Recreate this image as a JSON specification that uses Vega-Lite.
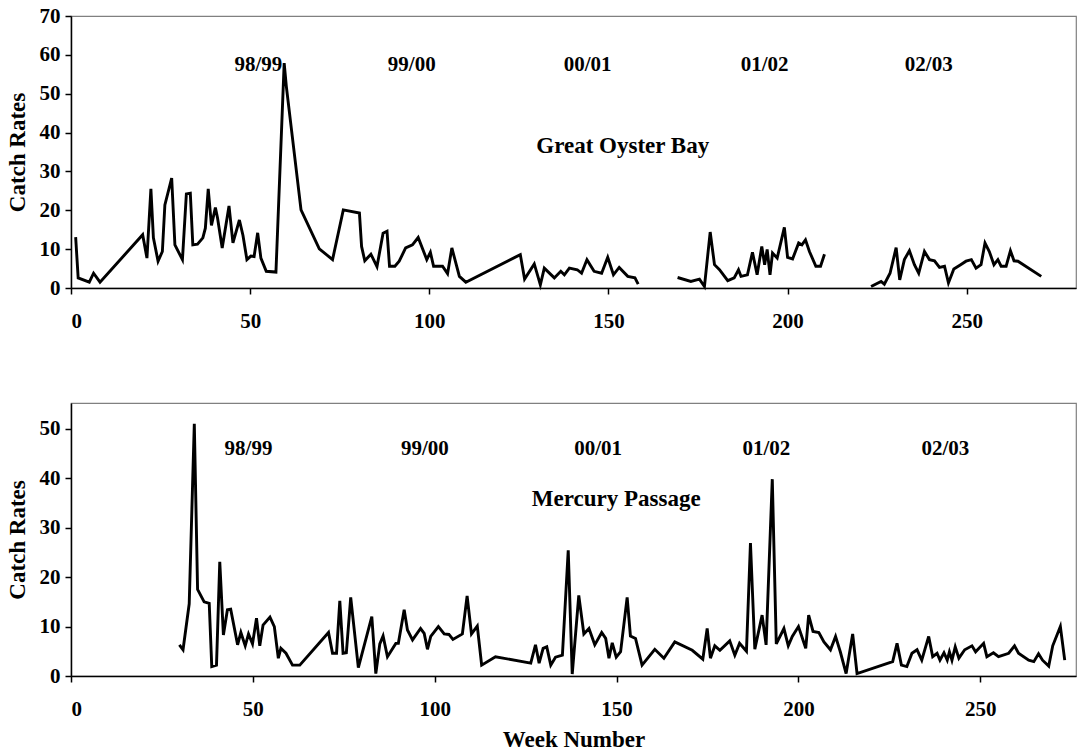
{
  "$schema": "https://vega.github.io/schema/vega-lite/v6.json",
  "padding": {"left": 5, "top": 4, "right": 4, "bottom": 0},
  "background": "white",
  "datasets": {
    "gob": [
      {"week":1.3,"rate":13.1},{"week":2,"rate":2.6},{"week":5.1,"rate":1.5},{"week":6.3,"rate":3.8},{"week":8.1,"rate":1.5},{"week":20,"rate":13.7},{"week":21.2,"rate":7.7},{"week":22.3,"rate":25.5},{"week":23,"rate":12.9},{"week":24.3,"rate":6.9},{"week":25.5,"rate":9.4},{"week":26.2,"rate":21.4},{"week":28.1,"rate":28.3},{"week":29,"rate":11.1},{"week":31.1,"rate":7.3},{"week":32.2,"rate":24.2},{"week":33.3,"rate":24.4},{"week":34,"rate":11.1},{"week":35.3,"rate":11.3},{"week":36.8,"rate":12.9},{"week":37.5,"rate":15.4},{"week":38.3,"rate":25.5},{"week":39.2,"rate":16.1},{"week":40.3,"rate":20.7},{"week":40.9,"rate":18},{"week":42.2,"rate":10.3},{"week":44.1,"rate":21.1},{"week":45.2,"rate":11.6},{"week":47,"rate":17.5},{"week":48,"rate":13.5},{"week":49.1,"rate":7.3},{"week":50.2,"rate":8.2},{"week":51.1,"rate":8.1},{"week":52.1,"rate":14.2},{"week":53,"rate":7.7},{"week":54.5,"rate":4.3},{"week":57.2,"rate":4.1},{"week":59.5,"rate":57.9},{"week":60.1,"rate":51.9},{"week":64.2,"rate":20.1},{"week":69.3,"rate":10.1},{"week":73,"rate":7.3},{"week":76,"rate":20.1},{"week":80.5,"rate":19.3},{"week":81.1,"rate":10.7},{"week":82,"rate":7},{"week":83.7,"rate":8.7},{"week":85.4,"rate":5.5},{"week":87.1,"rate":14.1},{"week":88.2,"rate":14.6},{"week":88.9,"rate":5.6},{"week":90.4,"rate":5.6},{"week":91.6,"rate":6.9},{"week":93.4,"rate":10.3},{"week":95.3,"rate":11.1},{"week":96.9,"rate":13},{"week":99.3,"rate":7.3},{"week":100.3,"rate":9.2},{"week":101.2,"rate":5.6},{"week":103.7,"rate":5.6},{"week":105.1,"rate":3.7},{"week":106.3,"rate":10.3},{"week":108.4,"rate":3},{"week":110.2,"rate":1.5},{"week":125.4,"rate":8.6},{"week":126.6,"rate":2.3},{"week":129.3,"rate":6.2},{"week":131,"rate":0.8},{"week":132.1,"rate":5.1},{"week":134.9,"rate":2.6},{"week":136.7,"rate":4.3},{"week":137.7,"rate":3.4},{"week":139.1,"rate":5.1},{"week":141.3,"rate":4.7},{"week":142.5,"rate":3.8},{"week":144,"rate":7.3},{"week":146,"rate":4.3},{"week":148.1,"rate":3.8},{"week":149.8,"rate":7.9},{"week":151.4,"rate":3.4},{"week":153,"rate":5.3},{"week":155.4,"rate":3},{"week":157.4,"rate":2.6},{"week":158.3,"rate":1},
      {"week":164,"rate":null},
      {"week":169.3,"rate":2.7},{"week":173,"rate":1.7},{"week":175.4,"rate":2.3},{"week":176.8,"rate":0.4},{"week":178.4,"rate":14.4},{"week":179.6,"rate":6},{"week":181,"rate":4.7},{"week":183.3,"rate":1.9},{"week":185.1,"rate":2.6},{"week":186.3,"rate":4.7},{"week":187,"rate":3},{"week":188.8,"rate":3.4},{"week":190.2,"rate":9.2},{"week":191.5,"rate":3.4},{"week":192.8,"rate":10.7},{"week":193.6,"rate":6},{"week":194.3,"rate":9.9},{"week":195.1,"rate":3.4},{"week":195.8,"rate":9},{"week":197.1,"rate":7.7},{"week":199.1,"rate":15.6},{"week":200,"rate":7.9},{"week":201.4,"rate":7.5},{"week":203.1,"rate":11.6},{"week":204,"rate":11.1},{"week":205,"rate":12.4},{"week":206.1,"rate":9.4},{"week":207.9,"rate":5.6},{"week":209.2,"rate":5.6},{"week":210.3,"rate":8.7},
      {"week":217,"rate":null},
      {"week":223.3,"rate":0.4},{"week":226.1,"rate":1.7},{"week":227,"rate":1},{"week":228.6,"rate":3.8},{"week":230.3,"rate":10.4},{"week":231.3,"rate":2.1},{"week":232.6,"rate":7.3},{"week":234,"rate":9.6},{"week":235.4,"rate":6},{"week":236.6,"rate":3.8},{"week":238.2,"rate":9.4},{"week":239.6,"rate":7.3},{"week":241,"rate":7},{"week":242.4,"rate":5.3},{"week":243.8,"rate":5.6},{"week":244.9,"rate":1.3},{"week":246.4,"rate":4.9},{"week":248.3,"rate":6},{"week":249.8,"rate":6.9},{"week":251.3,"rate":7.3},{"week":252.6,"rate":5.1},{"week":254,"rate":6},{"week":255.1,"rate":11.6},{"week":256.3,"rate":9.4},{"week":257.6,"rate":6},{"week":258.7,"rate":7.3},{"week":259.6,"rate":5.6},{"week":261,"rate":5.6},{"week":262.2,"rate":9.6},{"week":263.2,"rate":7},{"week":264.3,"rate":6.9},{"week":270.8,"rate":3}
    ],
    "mp": [
      {"week":29.8,"rate":6.3},{"week":30.8,"rate":5.3},{"week":32.5,"rate":14.6},{"week":33.9,"rate":51},{"week":34.8,"rate":17.5},{"week":36.6,"rate":15},{"week":38,"rate":14.7},{"week":38.7,"rate":1.9},{"week":40,"rate":2.2},{"week":40.9,"rate":23.1},{"week":41.9,"rate":8.3},{"week":43,"rate":13.4},{"week":43.9,"rate":13.5},{"week":45.8,"rate":6.3},{"week":46.7,"rate":8.8},{"week":47.9,"rate":6.1},{"week":48.8,"rate":8.5},{"week":49.9,"rate":6.5},{"week":51,"rate":11.7},{"week":51.9,"rate":6.1},{"week":52.8,"rate":10.3},{"week":54.7,"rate":11.9},{"week":55.9,"rate":10},{"week":57,"rate":3.6},{"week":57.7,"rate":5.6},{"week":59.1,"rate":4.6},{"week":60.9,"rate":2.2},{"week":62.9,"rate":2.2},{"week":70.8,"rate":8.8},{"week":71.9,"rate":4.6},{"week":73,"rate":4.6},{"week":73.9,"rate":15.2},{"week":74.8,"rate":4.6},{"week":75.7,"rate":4.7},{"week":76.9,"rate":15.9},{"week":79,"rate":1.7},{"week":82.7,"rate":12},{"week":83.8,"rate":0.5},{"week":84.9,"rate":6.5},{"week":85.8,"rate":8.1},{"week":87,"rate":3.9},{"week":89.3,"rate":6.6},{"week":90,"rate":6.6},{"week":91.6,"rate":13.4},{"week":92.5,"rate":9.3},{"week":93.9,"rate":7.3},{"week":96.1,"rate":9.6},{"week":97.1,"rate":8.6},{"week":98,"rate":5.4},{"week":98.9,"rate":8},{"week":101,"rate":10},{"week":102.6,"rate":8.5},{"week":103.9,"rate":8.4},{"week":105,"rate":7.4},{"week":107.6,"rate":8.5},{"week":108.9,"rate":16.2},{"week":110.1,"rate":8.5},{"week":111.7,"rate":10.1},{"week":112.9,"rate":2.2},{"week":116.7,"rate":3.9},{"week":126.4,"rate":2.6},{"week":127.7,"rate":6.3},{"week":128.7,"rate":2.6},{"week":129.8,"rate":5.6},{"week":130.8,"rate":5.9},{"week":131.9,"rate":2.2},{"week":133.2,"rate":3.8},{"week":135.1,"rate":4.2},{"week":136.7,"rate":25.4},{"week":137.8,"rate":0.4},{"week":139.6,"rate":16.3},{"week":141,"rate":8.5},{"week":142.4,"rate":9.6},{"week":144,"rate":6.3},{"week":145.9,"rate":8.8},{"week":147,"rate":7.6},{"week":147.9,"rate":3.6},{"week":148.8,"rate":6.7},{"week":149.9,"rate":3.8},{"week":151.1,"rate":4.9},{"week":152.9,"rate":15.9},{"week":153.8,"rate":8.1},{"week":155.2,"rate":7.6},{"week":157,"rate":2.2},{"week":160.5,"rate":5.4},{"week":163,"rate":3.6},{"week":166,"rate":6.9},{"week":170.8,"rate":5.2},{"week":173.7,"rate":3.4},{"week":174.9,"rate":9.6},{"week":175.8,"rate":3.6},{"week":177,"rate":6.1},{"week":178.4,"rate":5.2},{"week":181.1,"rate":7.1},{"week":182.5,"rate":4.2},{"week":183.8,"rate":6.6},{"week":185.7,"rate":5},{"week":186.8,"rate":26.9},{"week":188,"rate":5.4},{"week":190,"rate":12.3},{"week":191.1,"rate":6.3},{"week":192.8,"rate":39.8},{"week":193.9,"rate":6.5},{"week":196,"rate":9.6},{"week":197.2,"rate":6.1},{"week":198.3,"rate":8},{"week":200,"rate":10},{"week":202,"rate":5.6},{"week":202.8,"rate":12.3},{"week":204,"rate":9},{"week":205.6,"rate":8.8},{"week":207,"rate":6.9},{"week":208.8,"rate":5.3},{"week":210.2,"rate":8},{"week":211.5,"rate":4.9},{"week":213.1,"rate":0.5},{"week":214.9,"rate":8.5},{"week":216.1,"rate":0.5},{"week":225.9,"rate":2.9},{"week":227.1,"rate":6.6},{"week":228.3,"rate":2.2},{"week":229.8,"rate":1.9},{"week":231.2,"rate":4.6},{"week":232.6,"rate":5.3},{"week":233.9,"rate":3.2},{"week":235.8,"rate":8},{"week":236.9,"rate":3.9},{"week":238.1,"rate":4.6},{"week":238.9,"rate":3.2},{"week":240,"rate":4.7},{"week":240.9,"rate":3.2},{"week":241.5,"rate":4.9},{"week":242.2,"rate":3.2},{"week":243.1,"rate":5.9},{"week":244.1,"rate":3.6},{"week":245.7,"rate":5.3},{"week":247.7,"rate":6.1},{"week":248.7,"rate":4.9},{"week":250.9,"rate":6.6},{"week":251.8,"rate":3.9},{"week":253.6,"rate":4.7},{"week":255,"rate":3.9},{"week":257.8,"rate":4.6},{"week":259.4,"rate":6.1},{"week":260.5,"rate":4.6},{"week":263.3,"rate":3.2},{"week":264.7,"rate":2.9},{"week":266,"rate":4.5},{"week":267.1,"rate":3.2},{"week":268.8,"rate":2},{"week":269.9,"rate":6.1},{"week":272,"rate":10},{"week":273.2,"rate":3.2}
    ],
    "gobSeasons": [
      {"label":"98/99","week":52.3,"rate":57.3},{"label":"99/00","week":95.1,"rate":57.3},{"label":"00/01","week":144.2,"rate":57.3},{"label":"01/02","week":193.6,"rate":57.3},{"label":"02/03","week":239.4,"rate":57.3}
    ],
    "mpSeasons": [
      {"label":"98/99","week":48.8,"rate":45.9},{"label":"99/00","week":97.3,"rate":45.9},{"label":"00/01","week":144.9,"rate":45.9},{"label":"01/02","week":191.2,"rate":45.9},{"label":"02/03","week":240.4,"rate":45.9}
    ],
    "gobName": [{"label":"Great Oyster Bay","week":154,"rate":36.5}],
    "mpName": [{"label":"Mercury Passage","week":149.9,"rate":35.8}]
  },
  "vconcat": [
    {
      "width": 1005,
      "height": 272,
      "encoding": {
        "x": {"field": "week", "type": "quantitative", "scale": {"domain": [0, 280.5], "nice": false}, "axis": {"values": [0, 50, 100, 150, 200, 250], "title": null}},
        "y": {"field": "rate", "type": "quantitative", "scale": {"domain": [0, 70], "nice": false}, "axis": {"values": [0, 10, 20, 30, 40, 50, 60, 70], "labelOverlap": false, "title": "Catch Rates"}}
      },
      "layer": [
        {
          "data": {"name": "gob"},
          "mark": {"type": "line", "color": "black", "strokeWidth": 2.9, "invalid": "break-paths-show-domains", "strokeJoin": "miter"}
        },
        {
          "data": {"name": "gobSeasons"},
          "mark": {"type": "text", "font": "Liberation Serif", "fontWeight": "bold", "fontSize": 21, "color": "black", "baseline": "middle"},
          "encoding": {"text": {"field": "label"}}
        },
        {
          "data": {"name": "gobName"},
          "mark": {"type": "text", "font": "Liberation Serif", "fontWeight": "bold", "fontSize": 23, "color": "black", "baseline": "middle"},
          "encoding": {"text": {"field": "label"}}
        }
      ]
    },
    {
      "width": 1005,
      "height": 273,
      "encoding": {
        "x": {"field": "week", "type": "quantitative", "scale": {"domain": [0, 276.3], "nice": false}, "axis": {"values": [0, 50, 100, 150, 200, 250], "title": "Week Number"}},
        "y": {"field": "rate", "type": "quantitative", "scale": {"domain": [0, 55.2], "nice": false}, "axis": {"values": [0, 10, 20, 30, 40, 50], "labelOverlap": false, "title": "Catch Rates"}}
      },
      "layer": [
        {
          "data": {"name": "mp"},
          "mark": {"type": "line", "color": "black", "strokeWidth": 2.9, "invalid": "break-paths-show-domains", "strokeJoin": "miter"}
        },
        {
          "data": {"name": "mpSeasons"},
          "mark": {"type": "text", "font": "Liberation Serif", "fontWeight": "bold", "fontSize": 21, "color": "black", "baseline": "middle"},
          "encoding": {"text": {"field": "label"}}
        },
        {
          "data": {"name": "mpName"},
          "mark": {"type": "text", "font": "Liberation Serif", "fontWeight": "bold", "fontSize": 23, "color": "black", "baseline": "middle"},
          "encoding": {"text": {"field": "label"}}
        }
      ]
    }
  ],
  "spacing": 115,
  "bounds": "flush",
  "config": {
    "font": "Liberation Serif",
    "view": {"stroke": "#808080", "strokeWidth": 1.2},
    "axis": {
      "labelFont": "Liberation Serif", "labelFontWeight": "bold", "labelFontSize": 21, "labelColor": "black", "labelOverlap": false,
      "titleFont": "Liberation Serif", "titleFontWeight": "bold", "titleFontSize": 23, "titleColor": "black",
      "domainColor": "black", "domainWidth": 1.5, "tickColor": "black", "tickWidth": 1.5, "tickSize": 6, "grid": false
    },
    "axisX": {"labelPadding": 16, "titlePadding": 9},
    "axisY": {"labelPadding": 5, "titlePadding": 10}
  }
}
